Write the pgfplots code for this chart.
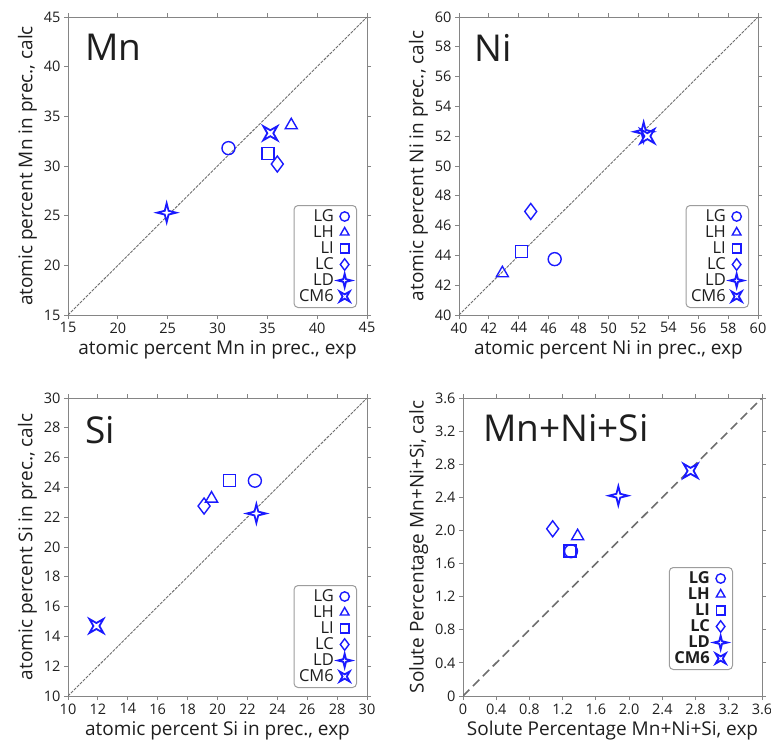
\documentclass[border=0pt]{standalone}
\usepackage{fontspec}
\setmainfont{Open Sans}
\usepackage{pgfplots}
\pgfplotsset{compat=1.18}
\definecolor{Axis}{HTML}{858585}
\definecolor{Txt}{HTML}{1E1E1E}
\definecolor{Mk}{HTML}{1A1AFF}
\definecolor{Diag}{HTML}{6E6E6E}

% four-point star, arms up/down/left/right
\pgfdeclareplotmark{starfour}{%
  \pgfpathmoveto{\pgfqpoint{0pt}{\pgfplotmarksize}}%
  \pgfpathlineto{\pgfqpoint{0.2\pgfplotmarksize}{0.2\pgfplotmarksize}}%
  \pgfpathlineto{\pgfqpoint{\pgfplotmarksize}{0pt}}%
  \pgfpathlineto{\pgfqpoint{0.2\pgfplotmarksize}{-0.2\pgfplotmarksize}}%
  \pgfpathlineto{\pgfqpoint{0pt}{-\pgfplotmarksize}}%
  \pgfpathlineto{\pgfqpoint{-0.2\pgfplotmarksize}{-0.2\pgfplotmarksize}}%
  \pgfpathlineto{\pgfqpoint{-\pgfplotmarksize}{0pt}}%
  \pgfpathlineto{\pgfqpoint{-0.2\pgfplotmarksize}{0.2\pgfplotmarksize}}%
  \pgfpathclose\pgfusepathqfillstroke}
% same star turned by 45 degrees
\pgfdeclareplotmark{starx}{%
  \pgfpathmoveto{\pgfqpoint{0.7\pgfplotmarksize}{0.7\pgfplotmarksize}}%
  \pgfpathlineto{\pgfqpoint{0pt}{0.3\pgfplotmarksize}}%
  \pgfpathlineto{\pgfqpoint{-0.7\pgfplotmarksize}{0.7\pgfplotmarksize}}%
  \pgfpathlineto{\pgfqpoint{-0.3\pgfplotmarksize}{0pt}}%
  \pgfpathlineto{\pgfqpoint{-0.7\pgfplotmarksize}{-0.7\pgfplotmarksize}}%
  \pgfpathlineto{\pgfqpoint{0pt}{-0.3\pgfplotmarksize}}%
  \pgfpathlineto{\pgfqpoint{0.7\pgfplotmarksize}{-0.7\pgfplotmarksize}}%
  \pgfpathlineto{\pgfqpoint{0.3\pgfplotmarksize}{0pt}}%
  \pgfpathclose\pgfusepathqfillstroke}
% square as an eight-point polygon, white inside
\pgfdeclareplotmark{sq}{%
  \pgfsetstrokecolor{Mk}\pgfsetfillcolor{white}%
  \pgfpathmoveto{\pgfqpoint{-\pgfplotmarksize}{-\pgfplotmarksize}}%
  \pgfpathlineto{\pgfqpoint{0pt}{-\pgfplotmarksize}}%
  \pgfpathlineto{\pgfqpoint{\pgfplotmarksize}{-\pgfplotmarksize}}%
  \pgfpathlineto{\pgfqpoint{\pgfplotmarksize}{0pt}}%
  \pgfpathlineto{\pgfqpoint{\pgfplotmarksize}{\pgfplotmarksize}}%
  \pgfpathlineto{\pgfqpoint{0pt}{\pgfplotmarksize}}%
  \pgfpathlineto{\pgfqpoint{-\pgfplotmarksize}{\pgfplotmarksize}}%
  \pgfpathlineto{\pgfqpoint{-\pgfplotmarksize}{0pt}}%
  \pgfpathclose\pgfusepathqfillstroke}

\pgfplotsset{
  panel/.style={
    scale only axis, width=299pt, height=298pt,
    tick align=outside, major tick length=4pt,
    axis line style={Axis,line width=1pt},
    major tick style={Axis,line width=1pt},
    tick label style={font=\fontsize{14.5}{14.5}\selectfont,color=Txt},
    label style={font=\fontsize{19}{19}\selectfont,color=Txt},
    /pgf/number format/assume math mode=true,
    legend plot pos=right, legend cell align=right,
    legend style={draw=Axis!80,line width=1pt,rounded corners=4pt,
      font=\fontsize{16.5}{16.5}\selectfont,text=Txt,row sep=0pt,column sep=4pt,
      nodes={inner sep=0pt,text height=12.5pt,text depth=3.5pt},
      at={(1,0)},anchor=south east,inner xsep=5pt,inner ysep=3pt},
    legend image post style={/tikz/every mark/.append style={scale=0.72}},
  },
  base/.style={only marks,color=Mk,mark options={draw=Mk,line width=1.4pt,fill=none}},
  cLG/.style={base,mark=o,mark size=6.5pt},
  cLH/.style={base,mark=triangle,mark size=7pt},
  cLI/.style={only marks,color=Mk,mark=sq,mark size=6pt,mark options={draw=Mk,line width=1.4pt,fill=white}},
  cLC/.style={base,mark=diamond,mark size=8pt},
  cLD/.style={only marks,color=Mk,mark=starfour,mark size=9.5pt,mark options={draw=Mk,line width=1.8pt,fill=white}},
  cCM/.style={only marks,color=Mk,mark=starx,mark size=10pt,mark options={draw=Mk,line width=1.8pt,fill=white}},
  diag/.style={Diag,line width=0.9pt,dash pattern=on 3pt off 1.2pt,forget plot},
}

\begin{document}
\begin{tikzpicture}[x=1pt,y=1pt]
\path[use as bounding box] (0,0) rectangle (771,-748);

% Mn
\begin{axis}[panel,at={(68pt,-315pt)},anchor=south west,
  xmin=15,xmax=45,ymin=15,ymax=45,
  xtick={15,20,...,45},ytick={15,20,...,45},
  xlabel={atomic percent Mn in prec., exp},
  ylabel={atomic percent Mn in prec., calc},
  legend style={xshift=-10pt,yshift=7pt}]
  \addplot[diag] coordinates {(15,15)(45,45)};
  \addplot[cLG] coordinates {(31.1,31.8)}; \addlegendentry{LG}
  \addplot[cLH] coordinates {(37.4,34.1)}; \addlegendentry{LH}
  \addplot[cLI] coordinates {(35.05,31.25)}; \addlegendentry{LI}
  \addplot[cLC] coordinates {(36.0,30.2)}; \addlegendentry{LC}
  \addplot[cLD] coordinates {(24.9,25.3)}; \addlegendentry{LD}
  \addplot[cCM] coordinates {(35.3,33.3)}; \addlegendentry{CM6}
\end{axis}

% Ni
\begin{axis}[panel,at={(459pt,-315pt)},anchor=south west,
  xmin=40,xmax=60,ymin=40,ymax=60,
  xtick={40,42,...,60},ytick={40,42,...,60},
  xlabel={atomic percent Ni in prec., exp},
  ylabel={atomic percent Ni in prec., calc},
  legend style={xshift=-9pt,yshift=7pt}]
  \addplot[diag] coordinates {(40,40)(60,60)};
  \addplot[cLG] coordinates {(46.4,43.75)}; \addlegendentry{LG}
  \addplot[cLH] coordinates {(42.9,42.8)}; \addlegendentry{LH}
  \addplot[cLI] coordinates {(44.2,44.25)}; \addlegendentry{LI}
  \addplot[cLC] coordinates {(44.8,46.95)}; \addlegendentry{LC}
  \addplot[cLD] coordinates {(52.35,52.3)}; \addlegendentry{LD}
  \addplot[cCM] coordinates {(52.6,52.0)}; \addlegendentry{CM6}
\end{axis}

% Si
\begin{axis}[panel,at={(68pt,-696pt)},anchor=south west,
  xmin=10,xmax=30,ymin=10,ymax=30,
  xtick={10,12,...,30},ytick={10,12,...,30},
  xlabel={atomic percent Si in prec., exp},
  ylabel={atomic percent Si in prec., calc},
  legend style={xshift=-10pt,yshift=8pt}]
  \addplot[diag] coordinates {(10,10)(30,30)};
  \addplot[cLG] coordinates {(22.5,24.45)}; \addlegendentry{LG}
  \addplot[cLH] coordinates {(19.6,23.25)}; \addlegendentry{LH}
  \addplot[cLI] coordinates {(20.8,24.45)}; \addlegendentry{LI}
  \addplot[cLC] coordinates {(19.1,22.75)}; \addlegendentry{LC}
  \addplot[cLD] coordinates {(22.6,22.25)}; \addlegendentry{LD}
  \addplot[cCM] coordinates {(11.9,14.7)}; \addlegendentry{CM6}
\end{axis}

% Mn+Ni+Si: the square is drawn first so the circle shows inside it
\begin{axis}[panel,at={(463pt,-696pt)},anchor=south west,
  xmin=0,xmax=3.6,ymin=0,ymax=3.6,
  xtick={0,0.4,...,3.61},ytick={0,0.4,...,3.61},
  xticklabels={0,0.4,0.8,1.2,1.6,2.0,2.4,2.8,3.2,3.6},
  yticklabels={0,0.4,0.8,1.2,1.6,2.0,2.4,2.8,3.2,3.6},
  xlabel={Solute Percentage Mn+Ni+Si, exp},
  ylabel={Solute Percentage Mn+Ni+Si, calc},
  legend style={xshift=-29pt,yshift=26pt,font=\fontsize{16.5}{16.5}\selectfont\bfseries}]
  \addplot[Diag,line width=1.6pt,dash pattern=on 9pt off 5pt,forget plot] coordinates {(0,0)(3.6,3.6)};
  \addplot[cLI,forget plot] coordinates {(1.29,1.75)};
  \addplot[cLG] coordinates {(1.3,1.75)}; \addlegendentry{LG}
  \addplot[cLH] coordinates {(1.38,1.93)}; \addlegendentry{LH}
  \addlegendimage{cLI}\addlegendentry{LI}
  \addplot[cLC] coordinates {(1.08,2.02)}; \addlegendentry{LC}
  \addplot[cLD] coordinates {(1.87,2.42)}; \addlegendentry{LD}
  \addplot[cCM] coordinates {(2.74,2.72)}; \addlegendentry{CM6}
\end{axis}

\begin{scope}[every node/.style={anchor=north west,inner sep=0pt,text=Txt,font=\fontsize{37}{37}\selectfont}]
  \node at (85,-34) {Mn};
  \node at (474,-34) {Ni};
  \node at (85,-416) {Si};
  \node at (483,-414) {Mn+Ni+Si};
\end{scope}
\end{tikzpicture}
\end{document}
